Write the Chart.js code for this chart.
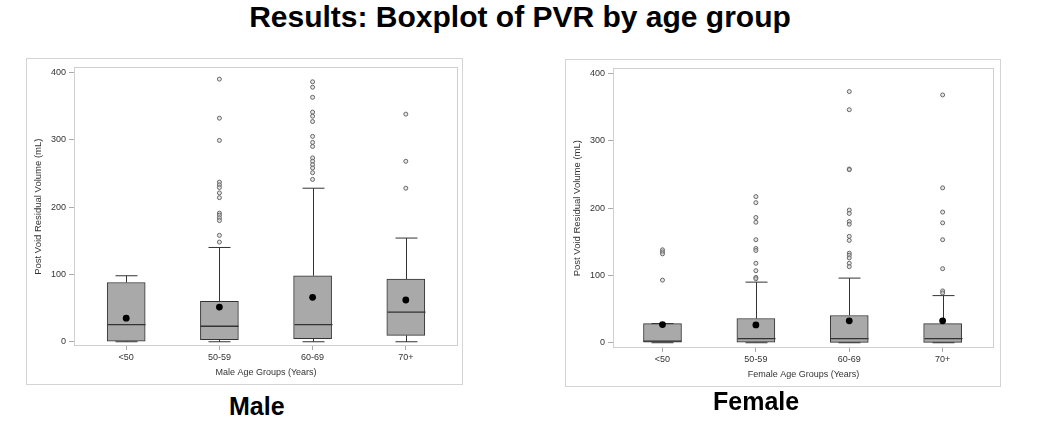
<!DOCTYPE html>
<html>
<head>
<meta charset="utf-8">
<style>
  body { margin: 0; width: 1050px; height: 430px; background: #fff; position: relative; overflow: hidden;
         font-family: "Liberation Sans", Arial, sans-serif; }
  .title { position: absolute; left: 0; width: 1040px; top: 0px; text-align: center; font-weight: bold; font-size: 30px; color: #000; }
  .frame { position: absolute; border: 1px solid #d4d4d4; box-sizing: border-box; }
  .frame canvas { position: absolute; left: 0; top: 0; }
  .label { position: absolute; font-weight: bold; font-size: 25px; color: #000; }
</style>
</head>
<body>
<div class="title">Results: Boxplot of PVR by age group</div>

<div class="frame" style="left:26px; top:58px; width:437px; height:327px;">
  <canvas id="male" width="437" height="327"></canvas>
</div>
<div class="frame" style="left:565px; top:59px; width:436px; height:328px;">
  <canvas id="female" width="436" height="328"></canvas>
</div>

<div class="label" style="left:229px; top:392px;">Male</div>
<div class="label" style="left:713px; top:387px;">Female</div>

<script src="https://cdn.jsdelivr.net/npm/chart.js"></script>
<script>
/* ---------------- DATA ---------------- */
const categories = ['<50', '50-59', '60-69', '70+'];
const yTicks = [0, 100, 200, 300, 400];

// Male
const maleMin    = [0, 0, 0, 0];
const maleQ1     = [1, 3, 4.5, 9.5];
const maleMedian = [25.5, 23, 25.5, 44];
const maleQ3     = [88, 60, 98, 93];
const maleMax    = [98, 140, 228, 154];
const maleMean   = [35, 51.5, 66, 62];
const maleOutliers = [
  [],
  [390, 332, 299, 237, 233, 229, 221, 214, 191, 188, 184, 180, 158, 148],
  [386, 378, 363, 341, 335, 327, 305, 296, 290, 273, 268, 263, 258, 251, 241],
  [338, 268, 228]
];

// Female
const femaleMin    = [0, 0, 0, 0];
const femaleQ1     = [0, 1, 0.5, 0.5];
const femaleMedian = [2.5, 6, 6, 6];
const femaleQ3     = [28.5, 36, 40.5, 28.5];
const femaleMax    = [28.5, 90, 96, 70];
const femaleMean   = [27, 26.5, 32.5, 32.5];
const femaleOutliers = [
  [138, 135, 132, 93],
  [217, 208, 186, 179, 153, 140, 137, 118, 107, 97, 95],
  [373, 346, 258, 257, 197, 192, 180, 176, 158, 152, 133, 130, 126, 118, 113],
  [368, 230, 194, 178, 153, 110, 77, 74]
];

/* ---------------- PLUGINS ---------------- */
// whiskers, caps and median lines, drawn right after the boxes
const boxParts = {
  id: 'boxParts',
  afterDatasetDraw(chart, args, opts) {
    if (args.index !== 0) return;
    const ctx = chart.ctx;
    const xs = chart.scales.x, ys = chart.scales.y;
    const s = opts.stats;
    ctx.save();
    ctx.strokeStyle = '#333';
    ctx.lineWidth = 1;
    for (let i = 0; i < categories.length; i++) {
      const x = Math.round(xs.getPixelForValue(i)) + 0.5;
      const yMin = ys.getPixelForValue(s.min[i]);
      const yQ1 = ys.getPixelForValue(s.q1[i]);
      const yQ3 = ys.getPixelForValue(s.q3[i]);
      const yMax = ys.getPixelForValue(s.max[i]);
      const yMed = ys.getPixelForValue(s.median[i]);
      ctx.beginPath();
      // upper whisker
      ctx.moveTo(x, yQ3); ctx.lineTo(x, yMax);
      ctx.moveTo(x - 11, yMax); ctx.lineTo(x + 11, yMax);
      // lower whisker
      ctx.moveTo(x, yQ1); ctx.lineTo(x, yMin);
      ctx.moveTo(x - 11, yMin); ctx.lineTo(x + 11, yMin);
      ctx.stroke();
      // median
      ctx.beginPath();
      ctx.lineWidth = 1.3;
      ctx.moveTo(x - 19, yMed); ctx.lineTo(x + 19, yMed);
      ctx.stroke();
      ctx.lineWidth = 1;
    }
    ctx.restore();
  }
};

// light plot-area border
const areaBorder = {
  id: 'areaBorder',
  beforeDatasetsDraw(chart) {
    const a = chart.chartArea, ctx = chart.ctx;
    ctx.save();
    ctx.strokeStyle = '#cfcfcf';
    ctx.lineWidth = 1;
    ctx.strokeRect(Math.round(a.left) + 0.5, Math.round(a.top) + 0.5,
                   Math.round(a.right - a.left) - 1, Math.round(a.bottom - a.top) - 1);
    ctx.restore();
  }
};

/* ---------------- CHART ---------------- */
function makeChart(id, s, xTitle, cfg) {
  const boxes = categories.map((c, i) => ({ x: i, y: [s.q1[i], s.q3[i]] }));
  const means = categories.map((c, i) => ({ x: i, y: s.mean[i] }));
  const outs = [];
  s.outliers.forEach((arr, i) => arr.forEach(v => outs.push({ x: i, y: v })));

  new Chart(document.getElementById(id), {
    type: 'bar',
    data: {
      datasets: [
        {
          type: 'bar', data: boxes, order: 2,
          backgroundColor: '#a9a9a9', borderColor: '#333', borderWidth: 1,
          borderSkipped: false, barThickness: 38
        },
        {
          type: 'scatter', data: outs, order: 1,
          pointRadius: 2, pointBorderWidth: 1,
          pointBorderColor: '#666', pointBackgroundColor: 'rgba(215,215,215,0.6)'
        },
        {
          type: 'scatter', data: means, order: 0,
          pointRadius: 3.4, pointBorderWidth: 0,
          pointBackgroundColor: '#000'
        }
      ]
    },
    options: {
      responsive: false,
      animation: false,
      layout: { padding: { left: 0, top: cfg.top, right: cfg.right, bottom: 0 } },
      plugins: {
        legend: { display: false },
        tooltip: { enabled: false },
        boxParts: { stats: s }
      },
      scales: {
        x: {
          type: 'linear',
          offset: false,
          min: cfg.xMin, max: cfg.xMax,
          afterBuildTicks: sc => { sc.ticks = categories.map((c, i) => ({ value: i })); },
          afterFit: sc => { sc.height = 40; },
          ticks: {
            callback: v => categories[v],
            font: { family: 'Liberation Sans', size: 9 }, color: '#333',
            padding: 2, maxRotation: 0, minRotation: 0
          },
          grid: { offset: false, drawOnChartArea: false, drawTicks: true, tickLength: 4, color: '#aaa' },
          border: { display: false },
          title: {
            display: true, text: xTitle, color: '#333',
            font: { family: 'Liberation Sans', size: 9 }, padding: { top: 0, bottom: 8 }
          }
        },
        y: {
          min: cfg.yMin, max: cfg.yMax,
          afterBuildTicks: sc => { sc.ticks = yTicks.map(v => ({ value: v })); },
          afterFit: sc => { sc.width = 47; },
          ticks: { font: { family: 'Liberation Sans', size: 9 }, color: '#333', padding: 3 },
          grid: { drawOnChartArea: false, drawTicks: true, tickLength: 5, color: '#aaa' },
          border: { display: false },
          title: {
            display: true, text: 'Post Void Residual Volume (mL)', color: '#333',
            font: { family: 'Liberation Sans', size: 9.5 }, padding: { top: 6, bottom: 0 }
          }
        }
      }
    },
    plugins: [areaBorder, boxParts]
  });
}

makeChart('male', {
  min: maleMin, q1: maleQ1, median: maleMedian, q3: maleQ3, max: maleMax,
  mean: maleMean, outliers: maleOutliers
}, 'Male Age Groups (Years)', { xMin: -0.56, xMax: 3.56, yMin: -6.3, yMax: 407.4, top: 6, right: 6 });

makeChart('female', {
  min: femaleMin, q1: femaleQ1, median: femaleMedian, q3: femaleQ3, max: femaleMax,
  mean: femaleMean, outliers: femaleOutliers
}, 'Female Age Groups (Years)', { xMin: -0.53, xMax: 3.55, yMin: -7.8, yMax: 407.4, top: 7, right: 8 });
</script>
</body>
</html>
